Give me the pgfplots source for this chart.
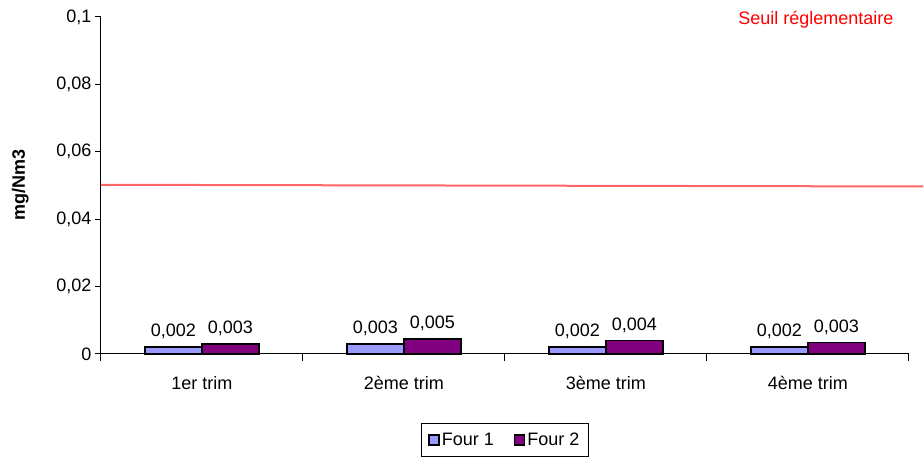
\documentclass[border=0pt]{standalone}
\usepackage{fontspec}
\setmainfont{Liberation Sans}
\usepackage{pgfplots}
\pgfplotsset{compat=1.18}

\definecolor{fourone}{HTML}{9999FF}
\definecolor{fourtwo}{HTML}{800080}
\definecolor{seuil}{HTML}{FF6666}

\begin{document}
\begin{tikzpicture}
    \begin{axis}[
        scale only axis,
        width=808pt,
        height=337pt,
        font=\fontsize{18}{21}\selectfont,
        axis lines*=left,
        axis line style={line width=1pt},
        ybar=0pt,
        bar width=57pt,
        %
        xmin=0.5,
        xmax=4.5,
        xtick={1,2,3,4},
        xticklabels={1er trim, 2ème trim, 3ème trim, 4ème trim},
        major x tick style={draw=none},
        minor xtick={0.5,1.5,2.5,3.5,4.5},
        minor tick length=7pt,
        xticklabel style={yshift=-13pt},
        %
        ymin=0,
        ymax=0.1,
        ytick={0,0.02,0.04,0.06,0.08,0.1},
        major tick length=6pt,
        tick align=outside,
        tick style={black, line width=1pt},
        yticklabel style={/pgf/number format/.cd, use comma, fixed, precision=2},
        /pgf/number format/assume math mode=true,
        ylabel={\bfseries mg/Nm3},
        ylabel style={at={(axis description cs:-0.1,0.5)}, anchor=center},
        %
        legend columns=2,
        legend style={at={(0.5,-0.255)}, anchor=center, draw=black, line width=0.8pt,
            inner xsep=7pt, inner ysep=7pt,
            font=\fontsize{18}{21}\selectfont,
            /tikz/every even column/.append style={column sep=18pt}},
        legend image code/.code={\draw[#1, line width=1.5pt] (0pt,-5pt) rectangle (10pt,5pt);},
        clip=false,
    ]
        \addplot[fill=fourone, draw=black, line width=1.5pt,
            nodes near coords,
            nodes near coords style={/pgf/number format/.cd, use comma, fixed, precision=3, fixed zerofill, /tikz/.cd, yshift=4pt}]
        coordinates {
            (1, 0.002)
            (2, 0.003)
            (3, 0.002)
            (4, 0.002)
        };
        \addplot[fill=fourtwo, draw=black, line width=1.5pt,
            nodes near coords,
            nodes near coords style={/pgf/number format/.cd, use comma, fixed, precision=3, fixed zerofill, /tikz/.cd, yshift=4pt}]
        coordinates {
            (1, 0.003)
            (2, 0.0045)
            (3, 0.004)
            (4, 0.0034)
        };
        \legend{Four 1, Four 2}
        \addplot[sharp plot, seuil, line width=2pt, forget plot] coordinates {
            (0.5, 0.0502)
            (4.57, 0.0497)
        };
        \node[red, anchor=center] at (axis cs:4.04,0.0991) {Seuil réglementaire};
    \end{axis}
    \path (current axis.south west) ++(-101pt,-108pt) rectangle ++(924pt,462pt);
\end{tikzpicture}
\end{document}
